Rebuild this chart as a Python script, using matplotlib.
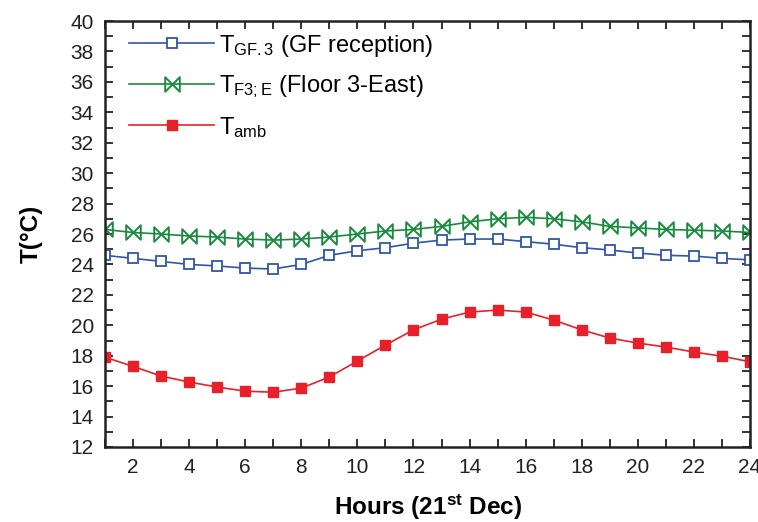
import matplotlib
matplotlib.use("Agg")
import matplotlib.pyplot as plt
from matplotlib.path import Path
from matplotlib.ticker import MultipleLocator

plt.rcParams['font.family'] = ['Liberation Sans', 'DejaVu Sans']
plt.rcParams['mathtext.fontset'] = 'custom'
plt.rcParams['mathtext.rm'] = 'Liberation Sans'
plt.rcParams['mathtext.it'] = 'Liberation Sans:italic'
plt.rcParams['mathtext.bf'] = 'Liberation Sans:bold'

hours = list(range(1, 25))
t_gf3 = [24.6, 24.4, 24.2, 24.0, 23.9, 23.76, 23.7, 24.0, 24.6, 24.9, 25.1, 25.4,
         25.6, 25.67, 25.67, 25.5, 25.33, 25.1, 24.95, 24.75, 24.6, 24.55, 24.4, 24.3]
t_f3e = [26.3, 26.1, 26.0, 25.87, 25.8, 25.67, 25.6, 25.67, 25.8, 26.0, 26.2, 26.3,
         26.5, 26.8, 27.0, 27.1, 27.0, 26.8, 26.5, 26.4, 26.3, 26.25, 26.2, 26.1]
t_amb = [17.9, 17.3, 16.66, 16.27, 15.94, 15.67, 15.6, 15.87, 16.6, 17.65, 18.7, 19.7,
         20.4, 20.87, 21.0, 20.87, 20.34, 19.7, 19.16, 18.83, 18.57, 18.24, 17.97, 17.6]

labels = [r'T$_{\mathrm{GF.3}}$ (GF reception)',
          r'T$_{\mathrm{F3;E}}$ (Floor 3-East)',
          r'T$_{\mathrm{amb}}$']

# bowtie marker
bowtie = Path([(-1, -1), (-1, 1), (1, -1), (1, 1), (-1, -1)],
              [Path.MOVETO, Path.LINETO, Path.LINETO, Path.LINETO, Path.CLOSEPOLY])

fig = plt.figure(figsize=(7.58, 5.22), dpi=100)
ax = fig.add_axes([0.1385, 0.1437, 0.851, 0.816])

ax.plot(hours, t_gf3, '-', color='#2f55aa', lw=1.2, marker='s', ms=7,
        mfc='white', mec='#2f55aa', mew=1.3, label=labels[0])
ax.plot(hours, t_f3e, '-', color='#1a8a3e', lw=1.2, marker=bowtie, ms=10.5,
        mfc='none', mec='#1a8a3e', mew=1.4, label=labels[1])
ax.plot(hours, t_amb, '-', color='#e8202a', lw=1.2, marker='s', ms=7.5,
        mfc='#e8202a', mec='#e8202a', label=labels[2])

ax.set_xlim(1, 24)
ax.set_ylim(12, 40)
ax.xaxis.set_major_locator(MultipleLocator(2))
ax.xaxis.set_minor_locator(MultipleLocator(1))
ax.yaxis.set_major_locator(MultipleLocator(2))
ax.yaxis.set_minor_locator(MultipleLocator(1))
ax.tick_params(which='both', direction='in', top=True, right=True, width=1.3,
               labelsize=15, colors='#222222')
ax.tick_params(which='major', length=6, pad=8)
ax.tick_params(which='minor', length=6)
for s in ax.spines.values():
    s.set_linewidth(1.8)
    s.set_color('#222222')

ax.set_xlabel(r'Hours (21$^{\mathbf{st}}$ Dec)', fontsize=17.5, fontweight='bold', labelpad=11)
ax.set_ylabel('T(°C)', fontsize=17.5, fontweight='bold', labelpad=20)

ax.legend(loc='upper left', frameon=False, fontsize=17, handlelength=3.6,
          labelspacing=0.62, borderaxespad=0.0, handletextpad=0.2,
          bbox_to_anchor=(0.023, 0.995))

fig.savefig('out.png', dpi=100)
